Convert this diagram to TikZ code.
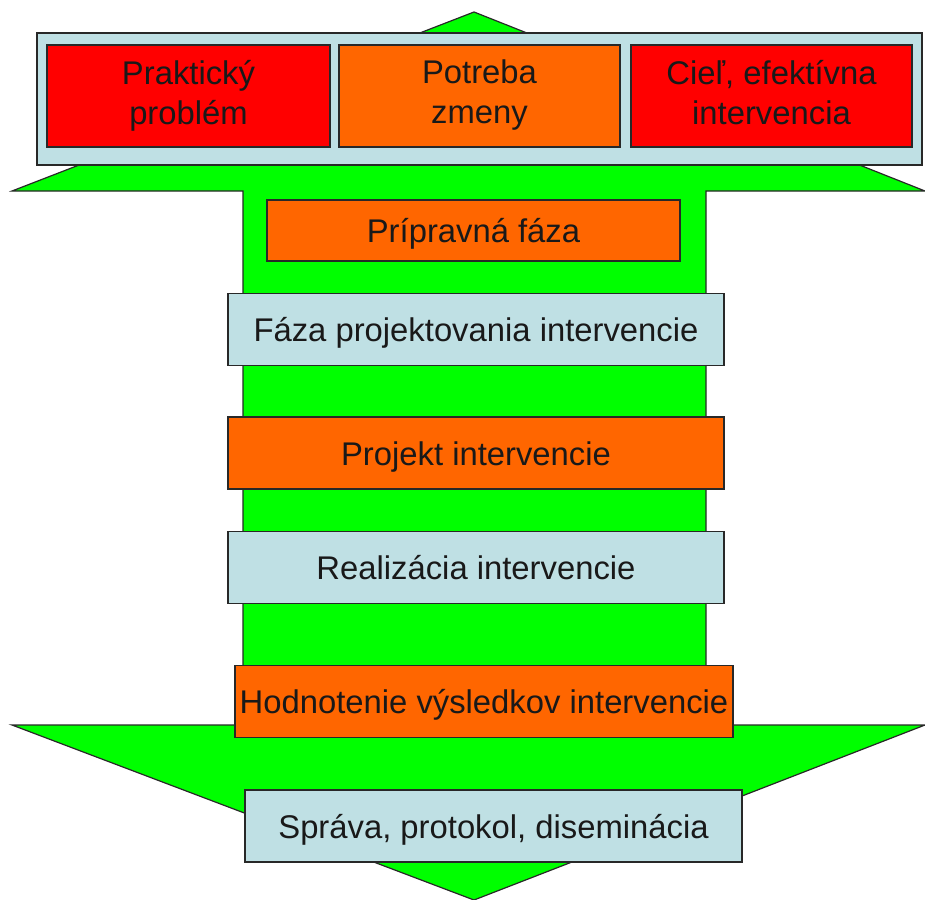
\documentclass[tikz,border=0pt]{standalone}
\usepackage{fontspec}
\setmainfont{Liberation Sans}
\definecolor{arrowgreen}{RGB}{0,255,0}
\definecolor{boxblue}{RGB}{191,224,228}
\definecolor{boxorange}{RGB}{255,102,0}
\definecolor{boxred}{RGB}{255,0,0}
\definecolor{edgegray}{RGB}{40,40,40}
\definecolor{textgray}{RGB}{25,25,25}

\begin{document}
\begin{tikzpicture}[x=0.5pt, y=-0.5pt,
  block/.style={rectangle, draw=edgegray, line width=0.8pt, inner sep=0pt, align=center,
    minimum height=36pt, text=textgray, font=\fontsize{16.4pt}{20pt}\selectfont,
    execute at begin node={\rule{0pt}{16pt}}, execute at end node={\rule[-4pt]{0pt}{4pt}}},
  blueblock/.style={block, fill=boxblue},
  orangeblock/.style={block, fill=boxorange},
  redblock/.style={block, fill=boxred}]
  \useasboundingbox (0,0) rectangle (925,899);

  % big green double arrow
  \draw[fill=arrowgreen, draw=edgegray, line width=0.6pt]
    (474,12) -- (925,191) -- (706,191) -- (706,725) -- (925,725) -- (474,900)
    -- (12,725) -- (243,725) -- (243,191) -- (12,191) -- cycle;

  % top row
  \node[blueblock, minimum width=442.5pt, minimum height=66pt] (frame) at (479.5,99) {};
  \node[redblock, minimum width=141.5pt, minimum height=51pt] (prakt) at (188.5,96) {Praktický\\problém};
  \node[orangeblock, minimum width=140.5pt, minimum height=51pt] (potreba) at (479.5,96) {Potreba\\zmeny};
  \node[redblock, minimum width=140.5pt, minimum height=51pt] (ciel) at (771.5,96) {Cieľ, efektívna\\intervencia};

  % phases
  \node[orangeblock, minimum width=206.5pt, minimum height=30.5pt] (prip) at (473.5,230.5) {Prípravná fáza};
  \node[blueblock, minimum width=248pt] (faza) at (476,329.5) {Fáza projektovania intervencie};
  \node[orangeblock, minimum width=248pt] (projekt) at (476,453) {Projekt intervencie};
  \node[blueblock, minimum width=248pt] (real) at (476,567.5) {Realizácia intervencie};
  \node[orangeblock, minimum width=249pt] (hodn) at (484,701.5) {Hodnotenie výsledkov intervencie};
  \node[blueblock, minimum width=248.5pt] (sprava) at (493.5,826) {Správa, protokol, diseminácia};

\end{tikzpicture}
\end{document}
